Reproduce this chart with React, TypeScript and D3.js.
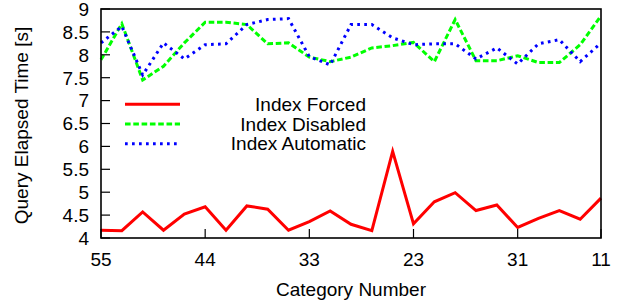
import React from 'react';
import * as d3 from 'd3';

const forced = [4.17, 4.16, 4.57, 4.17, 4.52, 4.68, 4.17, 4.70, 4.63, 4.17, 4.36, 4.59, 4.30,
	4.16, 5.89, 4.31, 4.79, 4.99, 4.60, 4.72, 4.23, 4.43, 4.60, 4.41, 4.87];
const disabled = [7.89, 8.68, 7.45, 7.75, 8.26, 8.71, 8.71, 8.66, 8.24, 8.26, 7.95, 7.85, 7.95,
	8.15, 8.20, 8.27, 7.85, 8.77, 7.87, 7.87, 7.98, 7.83, 7.83, 8.22, 8.85];
const automatic = [8.26, 8.62, 7.56, 8.26, 7.91, 8.22, 8.24, 8.66, 8.77, 8.79, 7.96, 7.78, 8.66,
	8.66, 8.37, 8.22, 8.24, 8.24, 7.91, 8.15, 7.80, 8.24, 8.33, 7.85, 8.26];

// x ticks: position (query index) and the category number printed there
const xTickIndex = [0, 5, 10, 15, 20, 24];
const xTickLabels = ['55', '44', '33', '23', '31', '11'];
const yTicks = [4, 4.5, 5, 5.5, 6, 6.5, 7, 7.5, 8, 8.5, 9];

const seriesNames = ['Index Forced', 'Index Disabled', 'Index Automatic'];
const seriesColors = ['#ff0000', '#00ff00', '#0000ff'];
const seriesDash = ['none', '5.6,2.7', '2.7,4.3'];

export default function App() {
	const width = 620, height = 308;
	const margin = { top: 9, right: 19, bottom: 70, left: 101 };

	const x = d3.scaleLinear()
		.domain([0, forced.length - 1])
		.range([margin.left, width - margin.right]);
	const y = d3.scaleLinear()
		.domain([4, 9])
		.range([height - margin.bottom, margin.top]);

	const line = d3.line<number>()
		.x((d, i) => x(i))
		.y((d) => y(d));

	const allSeries = [forced, disabled, automatic];
	const font = '"Liberation Sans", Arial, sans-serif';
	const x0 = x.range()[0], x1 = x.range()[1];
	const y0 = y.range()[0], y1 = y.range()[1];

	return (
		<svg width={width} height={height} style={{ position: 'absolute', left: 0, top: 0, background: '#fff' }}
			fontFamily={font} fontSize={19}>
			{/* lines */}
			{allSeries.map((s, k) => (
				<path key={k} d={line(s) || ''} fill="none" stroke={seriesColors[k]}
					strokeWidth={3} strokeDasharray={seriesDash[k]} strokeLinejoin="miter" />
			))}

			{/* legend */}
			{seriesNames.map((name, k) => {
				const ly = 104.3 + k * 19.7;
				return (
					<g key={name}>
						<line x1={125} x2={180} y1={ly} y2={ly} stroke={seriesColors[k]}
							strokeWidth={3} strokeDasharray={seriesDash[k]} />
						<text x={366} y={ly + 6.6} textAnchor="end" fill="#000">{name}</text>
					</g>
				);
			})}

			{/* frame */}
			<rect x={x0} y={y1} width={x1 - x0} height={y0 - y1} fill="none" stroke="#000" strokeWidth={1.6} />

			{/* y axis */}
			{yTicks.map((t) => (
				<g key={t}>
					<line x1={x0} x2={x0 + 9} y1={y(t)} y2={y(t)} stroke="#000" strokeWidth={1.2} />
					<text x={89} y={y(t) + 6.8} textAnchor="end">{t}</text>
				</g>
			))}

			{/* x axis */}
			{xTickIndex.map((t, i) => (
				<g key={t}>
					<line x1={x(t)} x2={x(t)} y1={y0} y2={y0 - 9} stroke="#000" strokeWidth={1.2} />
					<text x={x(t)} y={266} textAnchor="middle">{xTickLabels[i]}</text>
				</g>
			))}

			<text x={(x0 + x1) / 2} y={296} textAnchor="middle">Category Number</text>
			<text transform={`translate(28,${(y0 + y1) / 2 + 2}) rotate(-90)`} textAnchor="middle">
				Query Elapsed Time [s]
			</text>
		</svg>
	);
}
